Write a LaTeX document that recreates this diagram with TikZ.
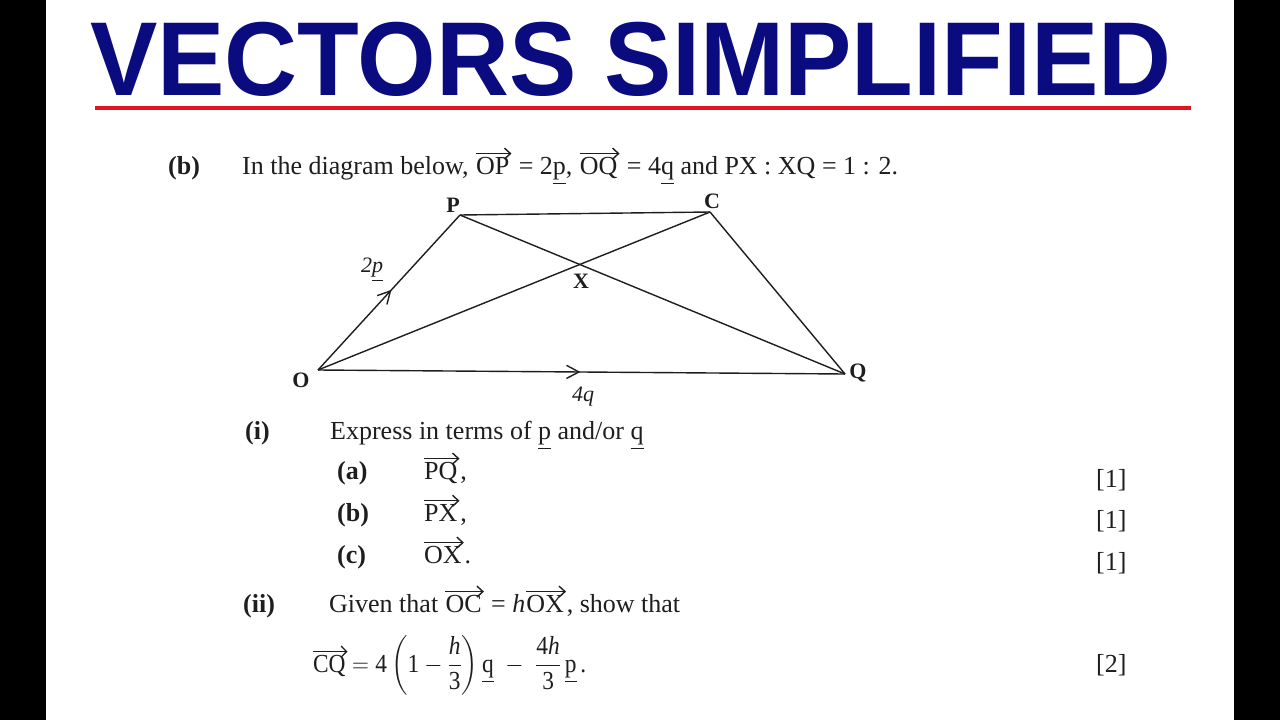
\RequirePackage{fix-cm}
\documentclass[tikz,border=0pt]{standalone}
\usepackage{fontspec}
\usepackage{amsmath}
\setmainfont{Liberation Serif}
\newfontfamily\titlefont{Liberation Sans}
\usetikzlibrary{arrows.meta,calc}
\definecolor{titleblue}{HTML}{0B0B80}
\definecolor{rulered}{HTML}{E3141E}
\definecolor{ink}{HTML}{1E1E1E}
\newcommand{\vecar}[1]{\tikz[baseline=(vt.base)]{\node[inner sep=0pt,anchor=base,text=ink] (vt) {#1};
  \draw[ink,line width=1.4pt,-{Straight Barb[length=6pt,width=11pt,line width=1.4pt]}] ([yshift=3pt]vt.north west) -- ([yshift=3pt,xshift=2pt]vt.north east);}}
\begin{document}
\begin{tikzpicture}[x=1pt,y=-1pt,
  txt/.style={anchor=base west, inner sep=0pt, text=ink, font=\fontsize{26}{30}\selectfont},
  btxt/.style={txt, font=\fontsize{26}{30}\selectfont\bfseries},
  lbl/.style={inner sep=0pt, text=ink, font=\fontsize{22}{26}\selectfont\bfseries},
  vlbl/.style={inner sep=0pt, text=ink, font=\fontsize{22}{26}\selectfont\itshape},
  edge/.style={draw=ink, line width=1.4pt},
  chev/.style={draw=ink, line width=1.4pt}
]
\fill[white] (0,0) rectangle (1280,720);
\fill[black] (0,0) rectangle (46,720);
\fill[black] (1234,0) rectangle (1280,720);
\useasboundingbox (0,0) rectangle (1280,720);

% title
\node[anchor=base west, inner sep=0pt, text=titleblue,
  font=\titlefont\bfseries\fontsize{105}{105}\selectfont] (title) at (90,95) {\scalebox{0.962}[1]{VECTORS SIMPLIFIED}};
\coordinate (rl) at (95,108);
\coordinate (rr) at (1191,108);
\draw[rulered, line width=4pt] (rl) -- (rr);

% question line
\node[btxt] (qb) at (168,174) {(b)};
\node[txt] (q1) at (242,174) {In the diagram below, \vecar{OP} = 2\underline{p}, \vecar{OQ} = 4\underline{q} and PX : XQ = 1 : 2.};

% diagram
\coordinate (O) at (318,370);
\coordinate (P) at (460,215);
\coordinate (C) at (710,212);
\coordinate (Q) at (845,374);
\coordinate (X) at (intersection of P--Q and O--C);
\draw[edge] (O) -- (P);
\draw[edge] (O) -- (Q);
\draw[edge] (P) -- (C);
\draw[edge] (C) -- (Q);
\draw[edge] (P) -- (Q);
\draw[edge] (O) -- (C);
% mid-line arrowheads
\coordinate (aP) at ($(O)!0.51!(P)$);
\coordinate (aQ) at ($(O)!0.495!(Q)$);
\draw[chev] ($(aP)!14pt!28:(O)$) -- (aP) -- ($(aP)!14pt!-28:(O)$);
\draw[chev] ($(aQ)!14pt!28:(O)$) -- (aQ) -- ($(aQ)!14pt!-28:(O)$);
\node[lbl] (lP) at (453,205) {P};
\node[lbl] (lC) at (712,201) {C};
\node[lbl] (lX) at (581,281) {X};
\node[lbl] (lO) at (301,380) {O};
\node[lbl] (lQ) at (858,373) {Q};
\node[vlbl] (l2p) at (372,270) {2\underline{p}};
\node[vlbl] (l4q) at (583,397) {4q};

% part (i)
\node[btxt] (pi) at (245,439) {(i)};
\node[txt] (ti) at (330,439) {Express in terms of \underline{p} and/or \underline{q}};
\node[btxt] (pa) at (337,479) {(a)};
\node[txt] (ta) at (423,479) {\vecar{PQ},};
\node[btxt] (pbb) at (337,521) {(b)};
\node[txt] (tb) at (423,521) {\vecar{PX},};
\node[btxt] (pc) at (337,563) {(c)};
\node[txt] (tc) at (423,563) {\vecar{OX}.};
\node[txt] (m1) at (1096,487) {[1]};
\node[txt] (m2) at (1096,528) {[1]};
\node[txt] (m3) at (1096,570) {[1]};

% part (ii)
\node[btxt] (pii) at (243,612) {(ii)};
\node[txt] (tii) at (329,612) {Given that \vecar{OC} = \textit{h}\vecar{OX}, show that};
\node[txt] (eq) at (312,672) {\scalebox{0.9}[1]{\vecar{CQ}\,$=\text{4}\left(\text{1}-\dfrac{\textit{h}}{\text{3}}\right)\underline{\text{q}}\;-\;\dfrac{\text{4}\textit{h}}{\text{3}}\,\underline{\text{p}}\,\text{.}$}};
\node[txt] (m4) at (1096,672) {[2]};
\end{tikzpicture}
\end{document}
